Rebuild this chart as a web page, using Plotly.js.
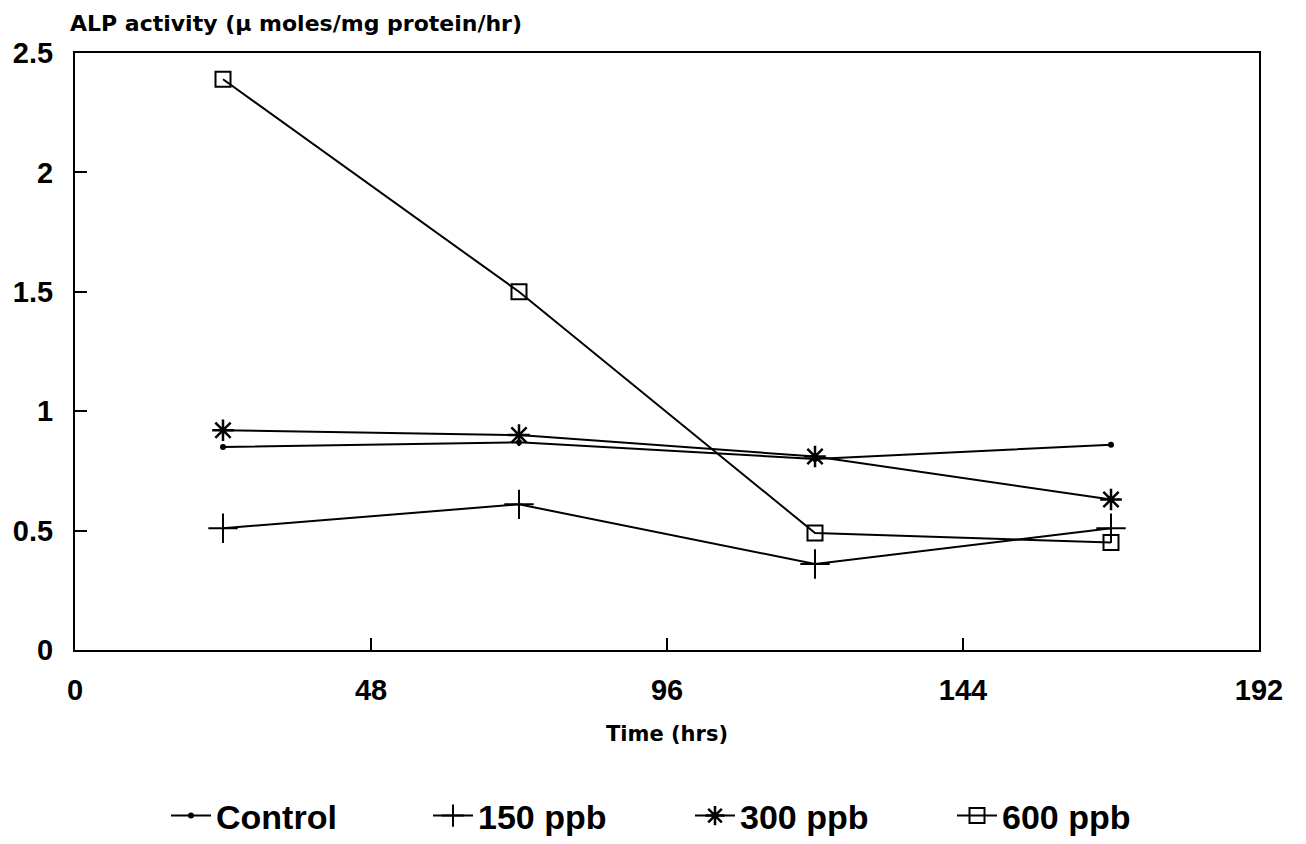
<!DOCTYPE html>
<html>
<head>
<meta charset="utf-8">
<script src="https://cdn.plot.ly/plotly-3.0.1.min.js"></script>
<style>html,body{margin:0;padding:0;background:#fff;}#chart{width:1306px;height:844px;}</style>
</head>
<body>
<div id="chart"></div>
<script>
const timeHrs = [24, 72, 120, 168];
const seriesNames = ["Control", "150 ppb", "300 ppb", "600 ppb"];
const control = [0.85, 0.87, 0.80, 0.86];
const ppb150 = [0.51, 0.61, 0.36, 0.51];
const ppb300 = [0.92, 0.90, 0.81, 0.63];
const ppb600 = [2.39, 1.50, 0.49, 0.45];
const xTicks = [0, 48, 96, 144, 192];
const yTicks = [0, 0.5, 1, 1.5, 2, 2.5];
const yTickText = ["0", "0.5", "1", "1.5", "2", "2.5"];

const font = "Liberation Sans, Arial, sans-serif";
const wideFont = "DejaVu Sans, Liberation Sans, sans-serif";
const lineStyle = {color: "#000", width: 2};

const traces = [
  {x: timeHrs, y: control, name: seriesNames[0], mode: "lines+markers", line: lineStyle,
   marker: {symbol: "circle", size: 6, color: "#000"}},
  {x: timeHrs, y: ppb150, name: seriesNames[1], mode: "lines+markers", line: lineStyle,
   marker: {symbol: "cross-thin", size: 21, color: "#000", line: {color: "#000", width: 2}}},
  {x: timeHrs, y: ppb300, name: seriesNames[2], mode: "lines+markers", line: lineStyle,
   marker: {symbol: "asterisk-open", size: 18, color: "#000", line: {color: "#000", width: 2.5}}},
  {x: timeHrs, y: ppb600, name: seriesNames[3], mode: "lines+markers", line: lineStyle,
   marker: {symbol: "square-open", size: 15, color: "#000", line: {color: "#000", width: 2}}}
];

const layout = {
  width: 1306, height: 844,
  margin: {l: 75, r: 47, t: 53, b: 194},
  paper_bgcolor: "#fff", plot_bgcolor: "#fff",
  font: {family: font, color: "#000"},
  showlegend: true,
  xaxis: {
    range: [0, 192], tickvals: xTicks, ticktext: xTicks.map(String),
    showgrid: false, zeroline: false, showline: true, mirror: true,
    linecolor: "#000", linewidth: 2, ticks: "inside", ticklen: 12, tickwidth: 2, tickcolor: "#000",
    tickfont: {family: font, size: 29, weight: "bold"}, ticklabelstandoff: 13,
    title: {text: "Time (hrs)", font: {family: wideFont, size: 21, weight: "bold"}, standoff: 22}
  },
  yaxis: {
    range: [0, 2.5], tickvals: yTicks, ticktext: yTickText,
    showgrid: false, zeroline: false, showline: true, mirror: true,
    linecolor: "#000", linewidth: 2, ticks: "inside", ticklen: 12, tickwidth: 2, tickcolor: "#000",
    tickfont: {family: font, size: 29, weight: "bold"}, ticklabelstandoff: 14
  },
  annotations: [{
    text: "ALP activity (µ moles/mg protein/hr)", xref: "paper", yref: "paper",
    x: (68 - 75) / 1184, y: 1.025, xanchor: "left", yanchor: "bottom", showarrow: false,
    font: {family: wideFont, size: 22, weight: "bold"}
  }],
  legend: {
    orientation: "h", x: (166 - 75) / 1184, xanchor: "left",
    yref: "container", y: (844 - 816) / 844, yanchor: "middle",
    font: {family: font, size: 34, weight: "bold"}, entrywidth: 207, itemwidth: 40,
    bgcolor: "rgba(0,0,0,0)"
  }
};

Plotly.newPlot("chart", traces, layout, {displayModeBar: false, staticPlot: true});
</script>
</body>
</html>
